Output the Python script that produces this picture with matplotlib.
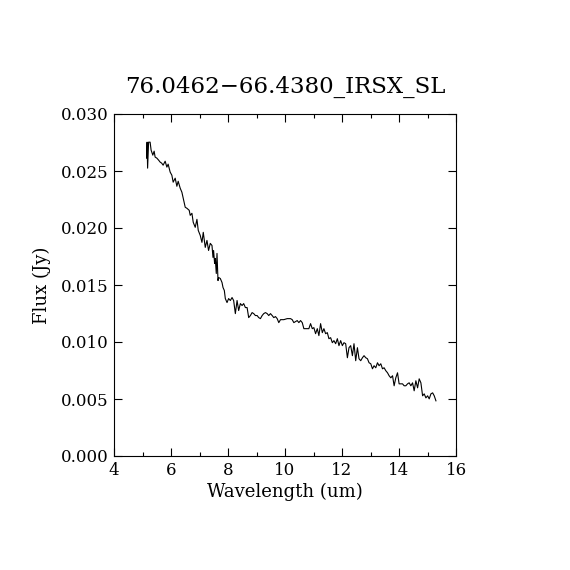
import matplotlib
matplotlib.use('Agg')
import matplotlib.pyplot as plt
from matplotlib.ticker import MultipleLocator

plt.rcParams['font.family'] = ['DejaVu Serif']

# spectrum (wavelength in um, flux in mJy)
wave = [5.144, 5.161, 5.179, 5.214, 5.267, 5.302, 5.362, 5.408, 5.443, 5.503,
        5.566, 5.619, 5.672, 5.724, 5.795, 5.855, 5.900, 5.971, 6.030, 6.076,
        6.147, 6.206, 6.252, 6.323, 6.382, 6.428, 6.499, 6.558, 6.639, 6.674,
        6.734, 6.780, 6.850, 6.910, 6.956, 7.026, 7.086, 7.132, 7.202, 7.262,
        7.318, 7.378, 7.438, 7.473, 7.494, 7.530, 7.554, 7.589, 7.614, 7.649,
        7.670, 7.730, 7.790, 7.825, 7.871, 7.906, 7.966, 8.022, 8.082, 8.142,
        8.198, 8.258, 8.318, 8.374, 8.434, 8.494, 8.550, 8.610, 8.670, 8.726,
        8.786, 8.846, 8.902, 8.962, 9.022, 9.078, 9.138, 9.198, 9.254, 9.314,
        9.374, 9.430, 9.490, 9.550, 9.606, 9.666, 9.726, 9.782, 9.842, 9.958,
        10.077, 10.194, 10.253, 10.310, 10.429, 10.486, 10.545, 10.605, 10.662, 10.781,
        10.837, 10.897, 10.957, 11.013, 11.073, 11.133, 11.189, 11.249, 11.309, 11.365,
        11.425, 11.485, 11.541, 11.601, 11.661, 11.717, 11.777, 11.837, 11.893, 11.953,
        12.013, 12.069, 12.129, 12.189, 12.245, 12.305, 12.365, 12.421, 12.481, 12.541,
        12.597, 12.657, 12.717, 12.773, 12.833, 12.893, 12.949, 13.009, 13.069, 13.125,
        13.185, 13.245, 13.301, 13.361, 13.421, 13.477, 13.537, 13.597, 13.653, 13.713,
        13.773, 13.829, 13.888, 13.948, 14.004, 14.064, 14.124, 14.180, 14.240, 14.300,
        14.356, 14.416, 14.476, 14.532, 14.592, 14.652, 14.708, 14.768, 14.828, 14.884,
        14.944, 15.004, 15.060, 15.120, 15.180, 15.236, 15.296]

flux_mjy = [26.13, 27.53, 25.25, 27.53, 27.53, 26.83, 26.39, 26.74, 26.22, 26.13,
            25.95, 25.78, 25.69, 25.51, 25.86, 25.34, 25.60, 24.90, 24.63, 24.02,
            24.37, 23.66, 24.10, 23.49, 23.14, 22.61, 21.82, 21.73, 21.55, 21.11,
            21.29, 20.50, 20.06, 20.76, 19.79, 19.35, 18.74, 19.62, 18.30, 18.91,
            18.03, 18.65, 18.47, 17.42, 18.03, 16.89, 17.33, 16.01, 17.77, 15.39,
            15.66, 15.57, 15.22, 14.78, 14.52, 13.81, 13.46, 13.81, 13.64, 13.90,
            13.64, 12.49, 13.64, 12.76, 13.37, 13.20, 13.37, 13.02, 13.02, 12.14,
            12.32, 12.58, 12.49, 12.32, 12.32, 12.14, 12.05, 12.32, 12.49, 12.58,
            12.49, 12.32, 12.49, 12.32, 12.14, 12.23, 12.05, 11.70, 11.96, 11.96,
            12.05, 12.05, 11.96, 11.70, 11.88, 11.70, 11.88, 11.70, 11.17, 11.17,
            11.17, 11.61, 11.17, 11.26, 10.73, 11.17, 10.56, 11.61, 10.82, 11.17,
            10.73, 10.82, 10.29, 10.38, 9.94, 10.12, 9.85, 10.29, 9.68, 10.12,
            9.68, 9.94, 9.85, 8.62, 9.50, 9.68, 8.80, 9.85, 8.36, 9.50,
            8.53, 8.36, 8.62, 8.80, 8.62, 8.53, 8.18, 8.09, 7.65, 7.92,
            7.74, 8.18, 7.92, 8.09, 7.65, 7.74, 7.48, 7.30, 7.04, 6.86,
            7.04, 6.16, 6.86, 7.30, 6.33, 6.33, 6.33, 6.16, 6.16, 6.33,
            6.42, 6.16, 6.42, 5.72, 6.60, 5.98, 6.77, 6.42, 5.28, 5.45,
            5.10, 5.28, 5.01, 5.45, 5.54, 5.28, 4.84]

flux = [f / 1000.0 for f in flux_mjy]

fig = plt.figure(figsize=(5.7, 5.7), dpi=100)
ax = fig.add_axes([0.2, 0.2, 0.6, 0.6])

ax.plot(wave, flux, color='black', linewidth=0.8)

ax.set_xlim(4, 16)
ax.set_ylim(0, 0.030)
ax.xaxis.set_major_locator(MultipleLocator(2))
ax.xaxis.set_minor_locator(MultipleLocator(1))
ax.yaxis.set_major_locator(MultipleLocator(0.005))
ax.yaxis.set_major_formatter(plt.FormatStrFormatter('%.3f'))

ax.tick_params(which='both', direction='in', top=True, right=True,
               labelsize=12, width=0.8, pad=4)
ax.tick_params(which='major', length=6)
ax.tick_params(which='minor', length=3)
for s in ax.spines.values():
    s.set_linewidth(0.8)

ax.set_xlabel('Wavelength (um)', fontsize=13, labelpad=3)
ax.set_ylabel('Flux (Jy)', fontsize=13, labelpad=7)
ax.set_title('76.0462\u221266.4380_IRSX_SL', fontsize=16.5, pad=15)

fig.savefig('out.png', dpi=100)
